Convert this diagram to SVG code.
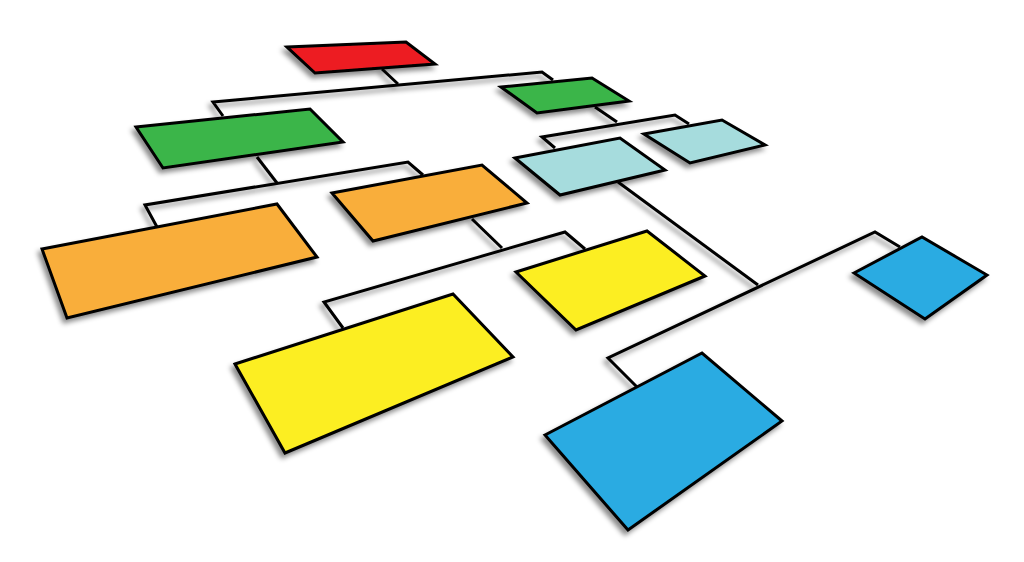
<svg xmlns="http://www.w3.org/2000/svg" width="1024" height="562" viewBox="0 0 1024 562">
<defs>
<filter id="sh" x="-20%" y="-20%" width="140%" height="150%">
<feDropShadow dx="-3" dy="4" stdDeviation="2.5" flood-color="#000" flood-opacity="0.45"/>
</filter>
</defs>
<style>
.n{stroke:#000;stroke-width:3;stroke-linejoin:miter;filter:url(#sh)}
.c{fill:none;stroke:#000;stroke-width:3;stroke-linejoin:miter}
.red{fill:#ED1C24}.green{fill:#3AB54A}.orange{fill:#F9AE3B}.cyan{fill:#A6DCDD}.yellow{fill:#FCEE21}.blue{fill:#29ABE2}
</style>
<rect width="1024" height="562" fill="#fff"/>
<g id="connectors" filter="url(#sh)">
<polyline class="c" points="382,69 398,84"/>
<polyline class="c" points="223,116 213,102 542,72 553,80"/>
<polyline class="c" points="257,157 277,183"/>
<polyline class="c" points="157,227 145,205 408,162 423,175"/>
<polyline class="c" points="472,219 502,248"/>
<polyline class="c" points="343,328 324,302 565,232 585,249"/>
<polyline class="c" points="595,107 617,122"/>
<polyline class="c" points="555,148 542,137 675,115 689,124"/>
<polyline class="c" points="618,182 758,285"/>
<polyline class="c" points="637,387 608,358 875,232 900,247"/>
</g>
<g id="node-red"><polygon class="n red" points="287,47 406,42 435,64 315,73"/></g>
<g id="node-green-left"><polygon class="n green" points="136,127 310,109 343,142 163,168"/></g>
<g id="node-green-right"><polygon class="n green" points="501,87 592,78 629,101 537,113"/></g>
<g id="node-orange-left"><polygon class="n orange" points="42,249 277,204 317,257 67,318"/></g>
<g id="node-orange-right"><polygon class="n orange" points="332,193 482,165 527,203 373,241"/></g>
<g id="node-cyan-left"><polygon class="n cyan" points="515,158 620,138 665,170 560,195"/></g>
<g id="node-cyan-right"><polygon class="n cyan" points="644,134 722,120 765,145 690,163"/></g>
<g id="node-yellow-left"><polygon class="n yellow" points="235,364 453,294 513,357 285,453"/></g>
<g id="node-yellow-right"><polygon class="n yellow" points="516,272 647,231 705,276 576,330"/></g>
<g id="node-blue-left"><polygon class="n blue" points="545,435 702,353 782,421 628,530"/></g>
<g id="node-blue-right"><polygon class="n blue" points="854,273 922,237 987,275 925,319"/></g>
</svg>
